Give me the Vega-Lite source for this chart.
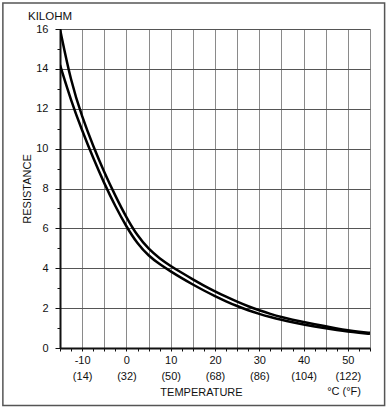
{
  "$schema": "https://vega.github.io/schema/vega-lite/v6.json",
  "width": 310,
  "height": 319,
  "autosize": {"type": "none"},
  "padding": {"left": 60, "top": 29, "right": 20, "bottom": 61},
  "background": "white",
  "config": {"view": {"stroke": null}, "font": "Liberation Sans"},
  "layer": [
    {
      "data": {"values": [
        {"t": -15, "r": 16.0, "curve": "upper"}, {"t": -12.5, "r": 13.32, "curve": "upper"}, {"t": -10, "r": 11.58, "curve": "upper"}, {"t": -7.5, "r": 10.12, "curve": "upper"}, {"t": -5, "r": 8.81, "curve": "upper"}, {"t": -2.5, "r": 7.63, "curve": "upper"}, {"t": 0, "r": 6.54, "curve": "upper"}, {"t": 2.5, "r": 5.62, "curve": "upper"}, {"t": 5, "r": 4.96, "curve": "upper"}, {"t": 7.5, "r": 4.49, "curve": "upper"}, {"t": 10, "r": 4.11, "curve": "upper"}, {"t": 12.5, "r": 3.77, "curve": "upper"}, {"t": 15, "r": 3.44, "curve": "upper"}, {"t": 17.5, "r": 3.13, "curve": "upper"}, {"t": 20, "r": 2.84, "curve": "upper"}, {"t": 22.5, "r": 2.57, "curve": "upper"}, {"t": 25, "r": 2.32, "curve": "upper"}, {"t": 27.5, "r": 2.09, "curve": "upper"}, {"t": 30, "r": 1.89, "curve": "upper"}, {"t": 32.5, "r": 1.71, "curve": "upper"}, {"t": 35, "r": 1.55, "curve": "upper"}, {"t": 37.5, "r": 1.42, "curve": "upper"}, {"t": 40, "r": 1.3, "curve": "upper"}, {"t": 42.5, "r": 1.19, "curve": "upper"}, {"t": 45, "r": 1.09, "curve": "upper"}, {"t": 47.5, "r": 0.98, "curve": "upper"}, {"t": 50, "r": 0.89, "curve": "upper"}, {"t": 52.5, "r": 0.82, "curve": "upper"}, {"t": 55, "r": 0.76, "curve": "upper"},
        {"t": -15, "r": 14.2, "curve": "lower"}, {"t": -12.5, "r": 12.4, "curve": "lower"}, {"t": -10, "r": 10.9, "curve": "lower"}, {"t": -7.5, "r": 9.52, "curve": "lower"}, {"t": -5, "r": 8.25, "curve": "lower"}, {"t": -2.5, "r": 7.1, "curve": "lower"}, {"t": 0, "r": 6.08, "curve": "lower"}, {"t": 2.5, "r": 5.22, "curve": "lower"}, {"t": 5, "r": 4.62, "curve": "lower"}, {"t": 7.5, "r": 4.2, "curve": "lower"}, {"t": 10, "r": 3.84, "curve": "lower"}, {"t": 12.5, "r": 3.5, "curve": "lower"}, {"t": 15, "r": 3.18, "curve": "lower"}, {"t": 17.5, "r": 2.88, "curve": "lower"}, {"t": 20, "r": 2.6, "curve": "lower"}, {"t": 22.5, "r": 2.34, "curve": "lower"}, {"t": 25, "r": 2.1, "curve": "lower"}, {"t": 27.5, "r": 1.89, "curve": "lower"}, {"t": 30, "r": 1.71, "curve": "lower"}, {"t": 32.5, "r": 1.55, "curve": "lower"}, {"t": 35, "r": 1.41, "curve": "lower"}, {"t": 37.5, "r": 1.29, "curve": "lower"}, {"t": 40, "r": 1.18, "curve": "lower"}, {"t": 42.5, "r": 1.08, "curve": "lower"}, {"t": 45, "r": 0.99, "curve": "lower"}, {"t": 47.5, "r": 0.9, "curve": "lower"}, {"t": 50, "r": 0.82, "curve": "lower"}, {"t": 52.5, "r": 0.76, "curve": "lower"}, {"t": 55, "r": 0.71, "curve": "lower"}
      ]},
      "mark": {"type": "line", "color": "#000", "strokeWidth": 2.5, "interpolate": "basis", "clip": true},
      "encoding": {
        "x": {
          "field": "t", "type": "quantitative",
          "scale": {"domain": [-15, 55], "nice": false, "zero": false},
          "axis": {
            "values": [-15, -12.5, -10, -7.5, -5, -2.5, 0, 2.5, 5, 7.5, 10, 12.5, 15, 17.5, 20, 22.5, 25, 27.5, 30, 32.5, 35, 37.5, 40, 42.5, 45, 47.5, 50, 52.5, 55],
            "tickCount": 100,
            "title": "TEMPERATURE",
            "labelExpr": "datum.value % 10 === 0 ? [toString(datum.value), '(' + toString(datum.value * 9 / 5 + 32) + ')'] : ''",
            "labelOverlap": false,
            "labelFlush": false,
            "labelFontSize": 11,
            "labelColor": "#111",
            "labelPadding": 3,
            "labelLineHeight": 16,
            "tickSize": 3,
            "tickColor": "#111",
            "tickWidth": 1,
            "domainColor": "#111",
            "domainWidth": 2,
            "grid": true,
            "gridColor": "#8a8a8a",
            "gridWidth": 1,
            "gridOpacity": {"condition": {"test": "datum.value % 5 === 0", "value": 1}, "value": 0},
            "titleFontSize": 11,
            "titleFontWeight": "normal",
            "titleColor": "#111",
            "titleX": 141,
            "titleY": 44,
            "titleBaseline": "middle"
          }
        },
        "y": {
          "field": "r", "type": "quantitative",
          "scale": {"domain": [0, 16], "nice": false, "zero": false},
          "axis": {
            "values": [0, 1, 2, 3, 4, 5, 6, 7, 8, 9, 10, 11, 12, 13, 14, 15, 16],
            "tickCount": 100,
            "format": "d",
            "title": "RESISTANCE",
            "labelExpr": "datum.value % 2 === 0 ? datum.label : ''",
            "labelOverlap": false,
            "labelFlush": false,
            "labelFontSize": 11,
            "labelColor": "#111",
            "labelPadding": 7,
            "tickSize": {"condition": {"test": "datum.value % 2 === 0", "value": 5}, "value": 3},
            "tickColor": "#111",
            "domainColor": "#111",
            "domainWidth": 2,
            "grid": true,
            "gridColor": "#555",
            "gridWidth": 1,
            "gridOpacity": {"condition": {"test": "datum.value % 2 === 0", "value": 1}, "value": 0},
            "titleFontSize": 11,
            "titleFontWeight": "normal",
            "titleColor": "#111",
            "titlePadding": 3
          }
        },
        "detail": {"field": "curve", "type": "nominal"}
      }
    },
    {
      "data": {"values": [{"label": "°C (°F)"}]},
      "mark": {"type": "text", "align": "right", "baseline": "middle", "fontSize": 11, "color": "#111", "dx": -9, "dy": 44},
      "encoding": {
        "x": {"datum": 55, "type": "quantitative"},
        "y": {"datum": 0, "type": "quantitative"},
        "text": {"field": "label", "type": "nominal"}
      }
    },
    {
      "data": {"values": [{"label": "KILOHM"}]},
      "mark": {"type": "text", "align": "left", "baseline": "alphabetic", "fontSize": 11.5, "color": "#111", "dx": -32, "dy": -9, "clip": false},
      "encoding": {
        "x": {"datum": -15, "type": "quantitative"},
        "y": {"datum": 16, "type": "quantitative"},
        "text": {"field": "label", "type": "nominal"}
      }
    },
    {
      "data": {"values": [{"frame": "border"}]},
      "mark": {"type": "rect", "fill": null, "stroke": "#555", "strokeWidth": 1.5, "clip": false},
      "encoding": {
        "x": {"datum": -27.9, "type": "quantitative"},
        "x2": {"datum": 58.3},
        "y": {"datum": 17.3, "type": "quantitative"},
        "y2": {"datum": -2.88}
      }
    }
  ]
}
